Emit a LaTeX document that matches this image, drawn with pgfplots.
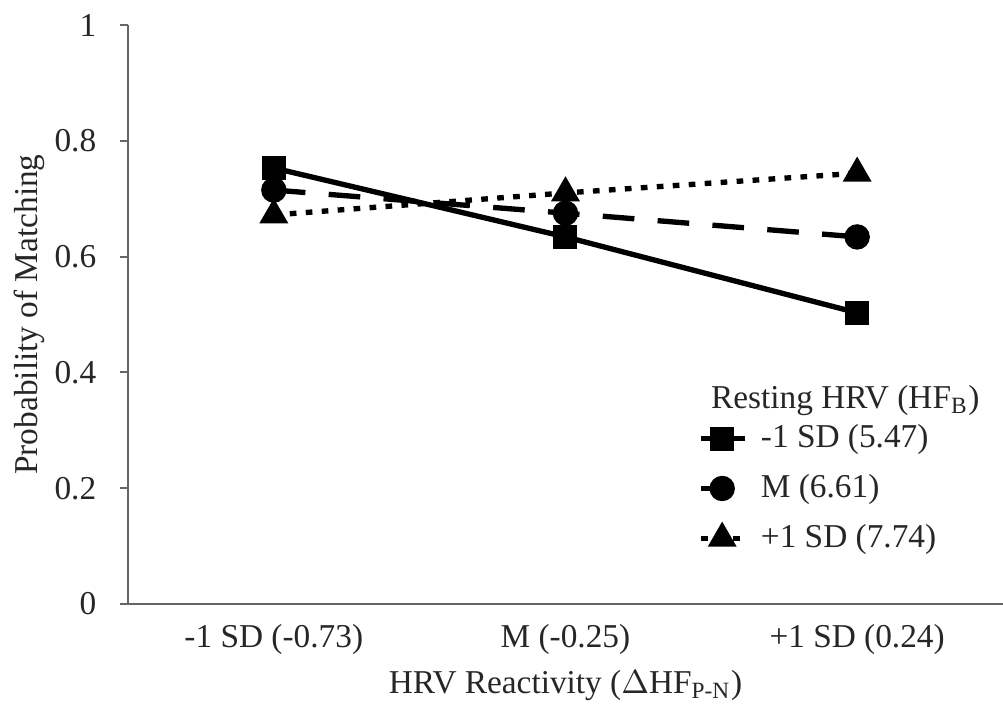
\documentclass[border=0pt]{standalone}
\usepackage{fontspec}
\setmainfont{Liberation Serif}
\usepackage{pgfplots}
\pgfplotsset{compat=1.18}
\begin{document}
\begin{tikzpicture}
\begin{axis}[
  name=ax,
  scale only axis, width=262.5pt, height=173.7pt,
  xmin=-0.5, xmax=2.5, ymin=0, ymax=1,
  axis x line=bottom, axis y line=left,
  axis line style={-, draw=gray!80!black, line width=0.6pt},
  xtick={0,1,2}, major x tick style={draw=none},
  xticklabels={-1 SD (-0.73), M (-0.25), +1 SD (0.24)},
  ytick={0,0.2,...,1}, yticklabels={0,0.2,0.4,0.6,0.8,1},
  y tick style={draw=gray!80!black, line width=0.6pt},
  tick align=outside, major tick length=2.5pt,
  tick label style={font=\fontsize{10}{12}\selectfont, text=black!85},
  /pgf/number format/assume math mode=true,
  yticklabel style={xshift=-3.5pt},
  xticklabel style={yshift=0pt},
  xlabel={HRV Reactivity ($\Delta$HF\textsubscript{P-N})},
  ylabel={Probability of Matching},
  label style={font=\fontsize{10}{12}\selectfont, text=black!85},
  xlabel style={yshift=2pt},
  ylabel style={yshift=-4pt},
  clip=false,
  legend style={draw=none, fill=none, at={(0.64,0.334)}, anchor=north west,
    font=\fontsize{10}{12}\selectfont, text=black!85, row sep=2.5pt,
    legend cell align=left,
    /tikz/every odd column/.style={column sep=2pt}},
  legend image code/.code={
    \draw (0cm,0cm) -- (0.46cm,0cm);
    \draw plot[only marks] coordinates {(0.22cm,0cm)};},
]
\addplot[black, line width=1.6pt, mark=square*, mark size=2.8pt, mark options={solid}]
  coordinates {(0,0.753) (1,0.634) (2,0.503)};
\addlegendentry{-1 SD (5.47)}
\addplot[black, line width=1.6pt, dash pattern=on 9.5pt off 7pt, mark=*, mark size=3pt, mark options={solid}]
  coordinates {(0,0.715) (1,0.675) (2,0.634)};
\addlegendentry{M (6.61)}
\addplot[black, line width=1.6pt, dash pattern=on 2pt off 2.8pt, mark=triangle*, mark size=3.4pt, mark options={solid}]
  coordinates {(0,0.672) (1,0.710) (2,0.744)};
\addlegendentry{+1 SD (7.74)}
\node[anchor=west, font=\fontsize{10}{12}\selectfont, text=black!85] at (rel axis cs:0.653,0.352) {Resting HRV (HF\textsubscript{B})};
\end{axis}
\pgfresetboundingbox
\path ([shift={(-38.4pt,-31.5pt)}]ax.south west) rectangle ([shift={(0pt,7.5pt)}]ax.north east);
\end{tikzpicture}
\end{document}
